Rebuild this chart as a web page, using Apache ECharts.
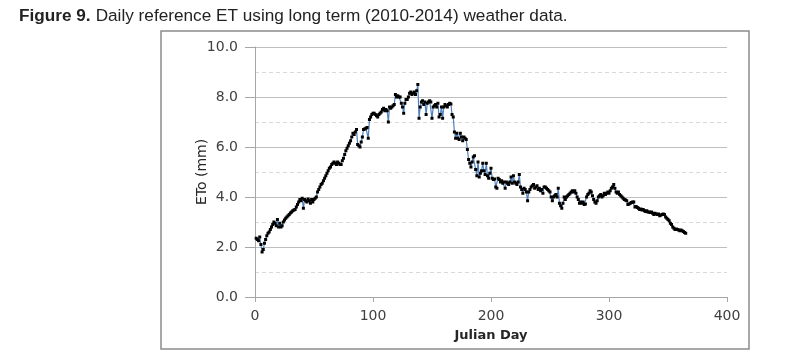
<!DOCTYPE html>
<html>
<head>
<meta charset="utf-8">
<script src="https://cdn.jsdelivr.net/npm/echarts@6/dist/echarts.min.js"></script>
<style>
  html, body { margin: 0; padding: 0; background: #fff; }
  #chart { width: 793px; height: 353px; }
</style>
</head>
<body>
<div id="chart"></div>
<script>
// daily ETo (mm), Julian day 1..365
var eto_1_60 = [
  2.35, 2.30, 2.25, 2.40, 2.10, 1.80, 1.90, 2.15, 2.30, 2.45,
  2.55, 2.60, 2.70, 2.80, 2.90, 3.00, 2.95, 2.85, 3.10, 2.80,
  2.95, 2.80, 2.85, 3.00, 3.08, 3.15, 3.20, 3.25, 3.30, 3.36,
  3.40, 3.45, 3.48, 3.50, 3.60, 3.70, 3.80, 3.90, 3.85, 3.95,
  3.55, 3.90, 3.85, 3.80, 3.92, 3.85, 3.75, 3.90, 3.80, 3.90,
  3.95, 4.00, 4.20, 4.30, 4.40, 4.50, 4.55, 4.65, 4.75, 4.85
];
var eto_61_120 = [
  4.95, 5.05, 5.15, 5.20, 5.30, 5.35, 5.40, 5.35, 5.30, 5.40,
  5.35, 5.30, 5.30, 5.45, 5.55, 5.70, 5.85, 5.95, 6.05, 6.15,
  6.25, 6.40, 6.55, 6.50, 6.60, 6.70, 6.10, 6.05, 6.00, 6.20,
  6.40, 6.70, 6.72, 6.75, 6.78, 6.35, 7.10, 7.20, 7.30, 7.35,
  7.35, 7.30, 7.25, 7.20, 7.30, 7.35, 7.40, 7.50, 7.55, 7.45,
  7.50, 7.45, 7.00, 7.60, 7.55, 7.60, 7.65, 7.70, 8.10, 8.00
];
var eto_121_180 = [
  8.05, 8.00, 8.00, 7.75, 7.60, 7.35, 7.75, 7.90, 7.90, 8.00,
  8.15, 8.20, 8.10, 8.15, 8.20, 8.10, 8.25, 8.50, 7.15, 7.60,
  7.80, 7.85, 7.70, 7.80, 7.30, 7.75, 7.80, 7.85, 7.80, 7.15,
  7.60, 7.65, 7.70, 7.60, 7.75, 7.20, 7.30, 7.60, 7.15, 7.60,
  7.70, 7.65, 7.60, 7.70, 7.75, 7.72, 7.30, 7.20, 6.60, 6.35,
  6.55, 6.35, 6.30, 6.55, 6.40, 6.25, 6.40, 6.35, 6.30, 5.90
];
var eto_181_240 = [
  5.50, 5.35, 5.20, 5.40, 5.60, 5.65, 5.10, 4.85, 5.40, 4.80,
  4.95, 5.05, 5.35, 5.05, 4.90, 5.35, 4.85, 4.75, 4.95, 5.15,
  4.75, 4.70, 4.72, 4.40, 4.35, 4.75, 4.70, 4.60, 4.65, 4.55,
  4.60, 4.35, 4.60, 4.55, 4.50, 4.60, 4.80, 4.55, 4.85, 4.60,
  4.55, 4.50, 4.60, 4.90, 4.40, 4.30, 4.15, 4.35, 4.30, 4.20,
  3.85, 4.20, 4.30, 4.40, 4.45, 4.50, 4.35, 4.40, 4.45, 4.30
];
var eto_241_300 = [
  4.35, 4.25, 4.30, 4.15, 4.40, 4.40, 4.35, 4.30, 4.25, 4.20,
  4.00, 3.85, 4.00, 4.05, 4.10, 4.00, 4.35, 3.75, 3.65, 3.55,
  3.75, 4.00, 3.90, 4.00, 4.05, 4.10, 4.15, 4.20, 4.25, 4.20,
  4.25, 4.15, 4.00, 3.90, 3.75, 3.80, 3.75, 3.80, 3.70, 3.72,
  4.00, 4.10, 4.15, 4.25, 4.20, 4.05, 3.90, 3.80, 3.75, 3.85,
  4.00, 4.05, 4.10, 4.00, 4.05, 4.15, 4.10, 4.15, 4.20, 4.15
];
var eto_301_365 = [
  4.25, 4.35, 4.40, 4.50, 4.35, 4.20, 4.15, 4.20, 4.10, 4.05,
  4.00, 3.95, 3.90, 3.88, 3.85, 3.70, 3.72, 3.75, 3.78, 3.80,
  3.80, 3.60, 3.62, 3.58, 3.55, 3.50, 3.52, 3.48, 3.50, 3.45,
  3.42, 3.45, 3.40, 3.40, 3.38, 3.40, 3.35, 3.30, 3.35, 3.32,
  3.30, 3.32, 3.25, 3.28, 3.30, 3.32, 3.30, 3.20, 3.15, 3.10,
  3.05, 2.95, 2.90, 2.80, 2.75, 2.70, 2.72, 2.70, 2.68, 2.65,
  2.68, 2.65, 2.62, 2.58, 2.55
];

var xTicks = [0, 100, 200, 300, 400];
var yTicks = [0, 2, 4, 6, 8, 10];

var eto = eto_1_60.concat(eto_61_120, eto_121_180, eto_181_240, eto_241_300, eto_301_365);
var points = [];
for (var i = 0; i < eto.length; i++) {
  points.push([i + 1, eto[i]]);
}

var chart = echarts.init(document.getElementById('chart'));

var option = {
  animation: false,
  backgroundColor: '#fff',
  title: {
    left: 14,
    top: 2,
    text: '{b|Figure 9.} {n|Daily reference ET using long term (2010-2014) weather data.}',
    textStyle: {
      fontWeight: 'normal',
      rich: {
        b: { fontFamily: 'Liberation Sans', fontSize: 17.2, fontWeight: 'bold', color: '#222' },
        n: { fontFamily: 'Liberation Sans', fontSize: 17.2, fontWeight: 'normal', color: '#222' }
      }
    }
  },
  graphic: [{
    type: 'rect',
    shape: { x: 161, y: 31, width: 588, height: 318 },
    style: { fill: 'none', stroke: '#8c8c8c', lineWidth: 1.5 },
    z: -1
  }],
  grid: { left: 255, right: 66, top: 47, bottom: 56 },
  xAxis: {
    type: 'value',
    min: xTicks[0],
    max: xTicks[xTicks.length - 1],
    interval: 100,
    name: 'Julian Day',
    nameLocation: 'middle',
    nameGap: 32,
    nameTextStyle: { fontFamily: 'DejaVu Sans', fontSize: 13, fontWeight: 'bold', color: '#262626' },
    axisLine: { show: true, onZero: false, lineStyle: { color: '#a6a6a6', width: 1 } },
    axisTick: { show: true, length: 5, lineStyle: { color: '#a6a6a6' } },
    axisLabel: { margin: 12, fontFamily: 'DejaVu Sans', fontSize: 14, color: '#404040' },
    splitLine: { show: false }
  },
  yAxis: {
    type: 'value',
    min: yTicks[0],
    max: yTicks[yTicks.length - 1],
    interval: 2,
    name: 'ETo (mm)',
    nameLocation: 'middle',
    nameRotate: 90,
    nameGap: 46,
    nameMoveOverlap: false,
    nameTextStyle: { fontFamily: 'DejaVu Sans', fontSize: 14, color: '#262626' },
    axisLine: { show: true, lineStyle: { color: '#a6a6a6', width: 1 } },
    axisTick: { show: true, length: 10, lineStyle: { color: '#a6a6a6' } },
    axisLabel: {
      margin: 17,
      fontFamily: 'DejaVu Sans',
      fontSize: 14,
      color: '#404040',
      formatter: function (v) { return v.toFixed(1); }
    },
    splitLine: { show: true, lineStyle: { color: '#bfbfbf', width: 1 } },
    minorTick: { show: false, splitNumber: 2 },
    minorSplitLine: { show: true, lineStyle: { color: '#d9d9d9', type: [4, 3], width: 1 } }
  },
  series: [{
    type: 'line',
    data: points,
    symbol: 'rect',
    symbolSize: 3,
    showAllSymbol: true,
    lineStyle: { color: '#4f81bd', width: 1.2 },
    itemStyle: { color: '#000', borderWidth: 0 }
  }]
};

chart.setOption(option);
</script>
</body>
</html>
